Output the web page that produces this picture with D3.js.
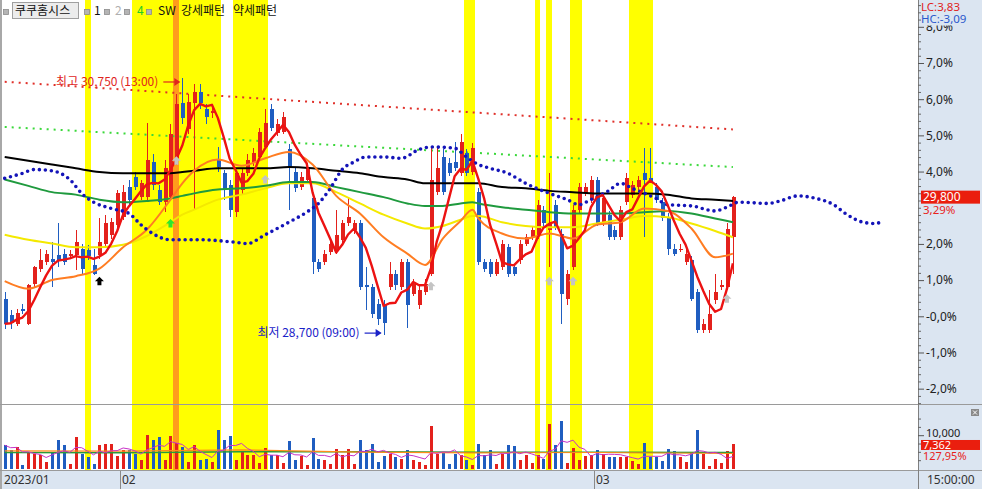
<!DOCTYPE html>
<html><head><meta charset="utf-8"><title>쿠쿠홈시스</title>
<script src="https://cdn.jsdelivr.net/npm/d3@7/dist/d3.min.js"></script>
<style>
html,body{margin:0;padding:0;background:#fff;overflow:hidden}
svg{display:block}
text{font-family:"Noto Sans CJK KR","Noto Sans",sans-serif}
.num{font-family:"Noto Sans","DejaVu Sans",sans-serif}
</style></head><body>
<svg id="chart" width="982" height="489"></svg>
<script>
// ---------------- data ----------------
const stockName = "쿠쿠홈시스";
const basePrice = 28850;            // previous close (0.0%)
const lastPrice = 29800;
const lastPctLabel = "3,29%";
const lastVolume = 7362;
const lastVolPct = "127,95%";
const lcLabel = "LC:3,83", hcLabel = "HC:-3,09";

const opens = [28990,28860,28790,28910,28790,29110,29230,29280,29310,29340,
 29350,29330,29340,29390,29380,29260,29340,29430,29500,29580,
 29640,29880,29960,29800,29800,30080,29860,29760,29800,30100,
 30550,30340,30550,30640,30500,30470,30100,29990,29900,29680,
 29860,29990,30070,30120,30200,30500,30310,30320,30180,30000,
 29880,29940,29790,29280,29280,29360,29380,29460,29590,29540,
 29590,29100,29080,28950,28940,29080,29190,29080,29280,29030,
 28940,29040,29190,29840,30120,30070,30080,29990,30150,30000,
 29840,29280,29280,29190,29240,29400,29240,29300,29430,29480,
 29500,29700,29540,29740,29510,28990,29240,29700,29830,29780,
 29940,29590,29660,29540,29480,29760,29820,29880,29990,29950,
 29880,29760,29630,29390,29380,29280,29300,29040,28740,28740,
 28980,29080,29080,29480];
const highs = [29040,28900,28910,28950,29110,29250,29390,29380,29440,29590,
 29390,29380,29540,29430,29420,29390,29630,29660,29630,29860,
 29900,29940,30000,29940,30390,30140,29900,30100,30380,30620,
 30750,30620,30700,30700,30540,30510,30200,30020,29940,30020,
 30030,30140,30190,30350,30500,30540,30420,30480,30220,30030,
 30000,30070,29820,29310,29380,29460,29700,29620,29790,29620,
 29620,29240,29110,28990,28980,29280,29220,29310,29310,29150,
 29100,29150,30200,30190,30180,30110,30240,30300,30180,30230,
 29870,29310,29310,29310,29460,29430,29270,29460,29510,29570,
 29780,29730,29990,29780,29550,29220,29740,29910,29910,29970,
 29960,29830,29690,29570,29730,29990,29930,29970,30190,30190,
 29910,29790,29670,29430,29430,29390,29330,29070,28830,29060,
 29190,29140,29590,29810];
const lows = [28750,28750,28770,28870,28780,29080,29200,29260,29080,29240,
 29260,29310,29220,29190,29300,29180,29310,29410,29470,29550,
 29620,29740,29860,29780,29780,29860,29740,29680,29780,30060,
 30380,30300,29700,30500,30380,30430,30000,29780,29640,29640,
 29820,29970,30050,30100,30180,30330,30290,30300,29700,29840,
 29860,29910,29190,29200,29260,29340,29350,29430,29570,29510,
 29060,28900,28840,28780,28700,29060,29060,29060,28760,29010,
 28910,29020,29170,29820,29820,29970,30010,29970,29970,29980,
 29260,29200,29160,29170,29220,29160,29170,29270,29410,29460,
 29470,29570,29240,29540,28790,28940,29220,29670,29810,29750,
 29570,29570,29460,29460,29460,29740,29790,29860,29480,29910,
 29750,29610,29340,29330,29360,29260,28970,28720,28720,28720,
 28950,29060,29060,29190];
const closes = [28790,28800,28880,28890,29100,29240,29300,29350,29280,29300,
 29280,29350,29440,29230,29330,29190,29440,29590,29600,29830,
 29840,29780,29880,29910,30100,29900,29760,30030,30300,30540,
 30430,30560,30640,30550,30440,30490,30040,29860,29700,29990,
 29990,30100,30150,30320,30390,30350,30380,30440,30040,29870,
 29960,30040,29280,29230,29350,29430,29500,29590,29640,29590,
 29080,29080,28870,28830,28800,29190,29100,29280,28940,29110,
 29060,29110,29940,30030,29840,29990,30030,30240,29990,30190,
 29280,29230,29190,29280,29430,29190,29190,29430,29480,29540,
 29740,29590,29590,29560,29030,29190,29700,29880,29880,29940,
 29590,29790,29480,29480,29700,29950,29900,29940,29940,29930,
 29780,29630,29390,29350,29390,29350,28990,28740,28790,28870,
 29040,29100,29550,29800];
const volumes = [7000,5500,6500,1000,5000,4500,4000,2000,5000,8700,
 7000,1500,9500,4500,3500,1500,7000,7300,7300,3700,
 5500,5500,4500,2500,10000,8500,9500,2700,9700,7700,
 6500,2000,7000,2500,3000,2000,11500,8500,9700,2700,
 5300,4000,4000,1700,6300,4000,4000,1700,8200,2700,
 3700,1000,9300,3000,2700,1500,6000,4000,6000,1500,
 8500,5500,7500,2000,3700,4500,3500,3000,5700,2500,
 2000,1000,12700,4500,4700,1500,4500,4000,2500,1000,
 7500,4000,5500,1500,4500,7000,6700,2500,4000,1700,
 4000,3000,13300,7000,14300,1700,6300,2700,3700,4000,
 5700,4500,3500,3500,3500,3500,2300,1300,7700,3500,
 3500,2300,6000,5300,3500,2000,4700,11500,4300,800,
 3000,1700,5300,7362];

const maIdx = [0,4,8,12,16,20,24,28,30,32,36,40,44,48,52,56,60,64,68,71,74,77,79,80,84,88,92,96,100,104,108,112,116,120,123];
const orangeMA = [29130,29070,29140,29170,29230,29400,29540,29780,29910,30010,30100,30050,30110,30160,30060,29810,29670,29480,29350,29260,29470,29610,29700,29630,29510,29470,29510,29470,29580,29600,29710,29690,29550,29320,29350];
const yellowMA = [29500,29460,29430,29400,29400,29420,29490,29600,29660,29700,29780,29820,29870,29910,29910,29840,29750,29660,29590,29550,29570,29620,29650,29650,29600,29570,29560,29560,29590,29620,29650,29640,29590,29530,29480];
const greenMA = [29940,29890,29840,29820,29780,29760,29770,29790,29810,29830,29860,29870,29890,29920,29920,29880,29840,29800,29750,29730,29730,29750,29760,29750,29720,29700,29680,29670,29670,29670,29680,29690,29670,29630,29600];
const blackMA = [30120,30090,30060,30030,30000,29990,29990,29990,30000,30010,30030,30030,30030,30040,30030,30010,29990,29960,29940,29910,29910,29910,29910,29910,29880,29870,29850,29840,29830,29830,29830,29820,29790,29780,29770];

// blue dotted span (extends into future slots)
const spanIdx = [0,3,5,8,11,13,15,18,21,23,25,28,33,39,41,44,48,51,53,55,57,59,61,64,67,70,72,76,78,80,82,85,88,92,95,97,99,102,104,106,110,112,116,120,122,124,129,131,134,137,140,142,145,147,148];
const spanVal = [29950,29990,30020,30010,29940,29830,29760,29710,29670,29580,29510,29460,29460,29440,29430,29500,29600,29680,29750,29870,30020,30080,30120,30120,30110,30180,30200,30190,30120,30060,30030,29990,29910,29830,29780,29740,29780,29850,29910,29870,29790,29740,29730,29690,29720,29760,29750,29770,29810,29790,29740,29670,29600,29590,29600];

// dotted trend lines
const trendIdx = [0, 123];
const redTrend = [30720, 30340];
const greenTrend = [30360, 30040];

// volume moving averages (sampled)
const volMaIdx = [0,20,40,60,80,100,123];
const volOrange = [5300,5200,5600,4900,4700,4800,4500];
const volGreen = [4800,4700,5000,5000,4900,4900,4800];

// pattern highlight candles
const strongIdx = [14,22,23,24,25,26,27,28,29,30,31,32,33,34,35,36,39,40,41,42,43,44,78,79,90,92,96,97,106,107,108,109];
const focusIdx = 29;

// signal arrows
const signalIdx = [16,28,29,44,72,92,96,122];
const signalPrice = [29130,29590,30090,29940,29090,29130,29130,28990];
const signalKind = ["black","green","gray","gray","gray","gray","gray","gray"];

// extremes
const hiIdx = 30, hiLabel = "최고 30,750 (13:00)", hiPrice = 30750;
const loIdx = 64, loLabel = "최저 28,700 (09:00)", loPrice = 28700;

// axis labels
const pctTicks = [-2,-1,0,1,2,4,5,6,7,8];
const pctLabels = ["-2,0%","-1,0%","-0,0%","1,0%","2,0%","4,0%","5,0%","6,0%","7,0%","8,0%"];
const monthIdx = [0,20,100];
const monthLabels = ["2023/01","02","03"];
const timeLabel = "15:00:00";
const volTickVals = [10000];
const volTickLabels = ["10,000"];
const legendItems = ["1","2","4","SW","강세패턴","약세패턴"];

// ---------------- drawing ----------------
const RED = "#e3211c", BLUE = "#1f5dc0", PANEL = "#dbe5f1", LINE = "#9a9a9a";
const svg = d3.select("#chart");
const N = closes.length;
const x = d3.scaleLinear().domain([0, N - 1]).range([4.7, 732.9]);
const y = d3.scaleLinear().domain([basePrice, basePrice * 1.07]).range([316.3, 63]);
const pct = d3.scaleLinear().domain([0, 7]).range([316.3, 63]);
const yv = d3.scaleLinear().domain([0, 10000]).range([468.5, 435.2]);

svg.append("rect").attr("x",0).attr("y",0).attr("width",918).attr("height",470).attr("fill","#fff");
svg.append("rect").attr("x",918).attr("y",0).attr("width",64).attr("height",489).attr("fill",PANEL);
svg.append("rect").attr("x",0).attr("y",470).attr("width",918).attr("height",19).attr("fill",PANEL);

const defs = svg.append("defs");
defs.append("clipPath").attr("id","pclip").append("rect").attr("x",3).attr("y",0).attr("width",915).attr("height",404);
defs.append("clipPath").attr("id","vclip").append("rect").attr("x",3).attr("y",405).attr("width",915).attr("height",65);
// local to the 8% tick (tick origin sits at y = pct(8)); hides the part above y = 25
defs.append("clipPath").attr("id","topclip").append("rect").attr("x",0).attr("y",25 - pct(8)).attr("width",64).attr("height",16);

// highlight bands
const gB = svg.append("g").attr("shape-rendering","crispEdges");
const slot = i => [Math.round(x(i - 0.5)), Math.round(x(i + 0.5))];
strongIdx.forEach(i => { const s = slot(i);
  gB.append("rect").attr("x",s[0]).attr("y",0).attr("width",s[1]-s[0]).attr("height",470).attr("fill","#ffff00"); });
{ const s = slot(focusIdx);
  gB.append("rect").attr("x",s[0]).attr("y",0).attr("width",s[1]-s[0]).attr("height",470).attr("fill","#ff9c1c"); }

const gP = svg.append("g").attr("clip-path","url(#pclip)");
const lineOf = (idx, vals, curve) => d3.line().x((d,k)=>x(idx[k])).y(d=>y(d)).curve(curve || d3.curveLinear)(vals);

// trend dotted lines
gP.append("path").attr("d", lineOf(trendIdx, redTrend)).attr("fill","none").attr("stroke","#e0302a").attr("stroke-width",2).attr("stroke-dasharray","2 5");
gP.append("path").attr("d", lineOf(trendIdx, greenTrend)).attr("fill","none").attr("stroke","#3ad83a").attr("stroke-width",2).attr("stroke-dasharray","2 5");

// candles
const gC = gP.append("g").attr("shape-rendering","crispEdges");
d3.range(N).forEach(i => {
  const up = closes[i] >= opens[i];
  const col = up ? RED : BLUE;
  const cx = Math.round(x(i));
  gC.append("rect").attr("x",cx).attr("y",y(highs[i])).attr("width",1).attr("height",Math.max(1,y(lows[i])-y(highs[i]))).attr("fill",col);
  const top = y(Math.max(opens[i],closes[i])), bot = y(Math.min(opens[i],closes[i]));
  gC.append("rect").attr("x",cx-1.5).attr("y",top).attr("width",4).attr("height",Math.max(1.5,bot-top)).attr("fill",col);
});

// moving averages
const curve = d3.curveMonotoneX;
gP.append("path").attr("d", lineOf(maIdx, yellowMA, curve)).attr("fill","none").attr("stroke","#f4e900").attr("stroke-width",2);
gP.append("path").attr("d", lineOf(maIdx, greenMA, curve)).attr("fill","none").attr("stroke","#1f9a3e").attr("stroke-width",2);
gP.append("path").attr("d", lineOf(maIdx, blackMA, curve)).attr("fill","none").attr("stroke","#000").attr("stroke-width",2);
gP.append("path").attr("d", lineOf(maIdx, orangeMA, curve)).attr("fill","none").attr("stroke","#ff7d22").attr("stroke-width",2);
gP.append("path").attr("d", lineOf(spanIdx, spanVal, d3.curveMonotoneX)).attr("fill","none").attr("stroke","#1414b8").attr("stroke-width",3.6).attr("stroke-linecap","round").attr("stroke-dasharray","0 6");
const ma5 = closes.map((c,i) => d3.mean(closes.slice(Math.max(0,i-4), i+1)));
gP.append("path").attr("d", d3.line().x((d,i)=>x(i)).y(d=>y(d))(ma5)).attr("fill","none").attr("stroke","#ec1212").attr("stroke-width",2.4).attr("stroke-linejoin","round");

// signals
const sigColor = {black:"#000", green:"#2ee62e", gray:"#c4c4c4"};
signalIdx.forEach((i,k) => {
  gP.append("path").attr("d","M0,-4.5L4.5,0L2,0L2,4L-2,4L-2,0L-4.5,0Z")
    .attr("transform",`translate(${x(i)},${y(signalPrice[k])})`).attr("fill",sigColor[signalKind[k]]);
});

// extreme annotations
function annot(idx, price, label, color, dy) {
  const ay = y(price) + dy, ax = x(idx) - 2;
  gP.append("text").attr("x", ax - 22).attr("y", ay).attr("dy","0.35em").attr("text-anchor","end")
    .attr("font-size",12).attr("fill",color).text(label);
  gP.append("line").attr("x1",ax-17).attr("x2",ax-1).attr("y1",ay).attr("y2",ay).attr("stroke",color).attr("stroke-width",1.2);
  gP.append("path").attr("d",`M${ax},${ay}L${ax-6},${ay-4}L${ax-6},${ay+4}Z`).attr("fill",color);
}
annot(hiIdx, hiPrice, hiLabel, "#e0261e", 4);
annot(loIdx, loPrice, loLabel, "#1a22c8", -2);

// volume
const gV = svg.append("g").attr("clip-path","url(#vclip)");
const gVb = gV.append("g").attr("shape-rendering","crispEdges");
volumes.forEach((v,i) => {
  const col = closes[i] >= opens[i] ? RED : BLUE;
  gVb.append("rect").attr("x",Math.round(x(i))-1).attr("y",yv(v)).attr("width",3).attr("height",yv(0)-yv(v)).attr("fill",col);
});
const vline = (idx, vals) => d3.line().x((d,k)=>x(idx[k])).y(d=>yv(d))(vals);
gV.append("path").attr("d", vline(volMaIdx, volGreen)).attr("fill","none").attr("stroke","#2a9a3a").attr("stroke-width",1.5);
gV.append("path").attr("d", vline(volMaIdx, volOrange)).attr("fill","none").attr("stroke","#ff8c1a").attr("stroke-width",1.2);
const vma5 = volumes.map((v,i) => d3.mean(volumes.slice(Math.max(0,i-4), i+1)));
gV.append("path").attr("d", d3.line().x((d,i)=>x(i)).y(d=>yv(d))(vma5)).attr("fill","none").attr("stroke","#c832c8").attr("stroke-width",1);

// frame lines
const gF = svg.append("g").attr("shape-rendering","crispEdges");
gF.append("rect").attr("x",0).attr("y",0).attr("width",2).attr("height",489).attr("fill","#a8a8a8");
gF.append("rect").attr("x",0).attr("y",404).attr("width",982).attr("height",1).attr("fill",LINE);
gF.append("rect").attr("x",0).attr("y",470).attr("width",982).attr("height",1).attr("fill",LINE);
gF.append("rect").attr("x",918).attr("y",0).attr("width",1).attr("height",489).attr("fill","#7f7f7f");

// price axis
const gA = svg.append("g").attr("transform","translate(918,0)");
const minor = d3.range(-24, 87, 2).map(d => d / 10).filter(d => Math.abs(d - Math.round(d)) > 0.01 || d === 3);
gA.append("g").call(d3.axisRight(pct).tickValues(minor).tickSize(3).tickFormat(""))
  .call(g => { g.select(".domain").remove(); g.selectAll("line").attr("stroke","#666"); });
const ax1 = gA.append("g").call(d3.axisRight(pct).tickValues(pctTicks).tickSize(6).tickPadding(2).tickFormat((d,k)=>pctLabels[k]));
ax1.select(".domain").remove();
ax1.selectAll("line").attr("stroke","#555");
ax1.selectAll("text").attr("class","num").attr("font-size",12).attr("fill","#222");
// top label half hidden under the LC/HC readout, as in the source
ax1.selectAll(".tick").filter(d => d === 8).select("text").attr("clip-path","url(#topclip)");

// LC / HC
svg.append("text").attr("class","num").attr("x",921).attr("y",11).attr("font-size",11.5).attr("fill","#e0221c").text(lcLabel);
svg.append("text").attr("class","num").attr("x",921).attr("y",23).attr("font-size",11.5).attr("fill","#2a58cc").text(hcLabel);

// last price tag
const ly = y(lastPrice);
svg.append("rect").attr("x",921).attr("y",ly-6.5).attr("width",59).attr("height",13).attr("fill","#ea1e0e");
svg.append("text").attr("class","num").attr("x",923).attr("y",ly).attr("dy","0.36em").attr("font-size",12).attr("fill","#fff").text(d3.format(",")(lastPrice));
svg.append("text").attr("class","num").attr("x",923).attr("y",ly+13).attr("dy","0.36em").attr("font-size",11.5).attr("fill","#e8221c").text(lastPctLabel);

// volume axis
const gVA = svg.append("g").attr("transform","translate(918,0)");
gVA.append("g").call(d3.axisRight(yv).tickValues([2500,5000,7500,12500,15000]).tickSize(3).tickFormat(""))
  .call(g => { g.select(".domain").remove(); g.selectAll("line").attr("stroke","#666"); });
const ax2 = gVA.append("g").call(d3.axisRight(yv).tickValues(volTickVals).tickSize(6).tickPadding(2).tickFormat((d,k)=>volTickLabels[k]));
ax2.select(".domain").remove();
ax2.selectAll("line").attr("stroke","#555");
ax2.selectAll("text").attr("class","num").attr("font-size",11).attr("fill","#222").attr("dy","0.1em");
const vy = yv(lastVolume);
svg.append("rect").attr("x",921).attr("y",vy-4).attr("width",59).attr("height",10).attr("fill","#ea1e0e");
svg.append("text").attr("class","num").attr("x",923).attr("y",vy+1).attr("dy","0.36em").attr("font-size",11).attr("fill","#fff").text(d3.format(",")(lastVolume));
svg.append("text").attr("class","num").attr("x",923).attr("y",vy+12.5).attr("dy","0.36em").attr("font-size",11).attr("fill","#e8221c").text(lastVolPct);
// close icon
svg.append("rect").attr("x",971).attr("y",409).attr("width",8).attr("height",7).attr("fill","#8a8a8a");
svg.append("path").attr("d","M973,410.5L977,414.5M977,410.5L973,414.5").attr("stroke","#fff").attr("stroke-width",1);

// time axis
monthIdx.forEach((i,k) => {
  const sx = i === 0 ? 2 : Math.round(x(i - 0.5));
  if (i > 0) svg.append("rect").attr("x",sx).attr("y",471).attr("width",1).attr("height",18).attr("fill","#8a8a8a");
  svg.append("text").attr("class","num").attr("x",sx+2).attr("y",480).attr("dy","0.35em").attr("font-size",12).attr("fill","#333").text(monthLabels[k]);
});
svg.append("text").attr("class","num").attr("x",927).attr("y",480).attr("dy","0.35em").attr("font-size",12).attr("fill","#333").text(timeLabel);

// legend
const gL = svg.append("g");
const sq = cx => gL.append("rect").attr("x",cx-2.5).attr("y",9.5).attr("width",5).attr("height",5).attr("fill","#b4b4b4").attr("stroke","#8c8c8c").attr("stroke-width",0.8);
sq(6);
gL.append("rect").attr("x",12.5).attr("y",2.5).attr("width",66).attr("height",16).attr("fill","#ececec").attr("stroke","#a0a0a0");
gL.append("text").attr("x",15).attr("y",11).attr("dy","0.36em").attr("font-size",12).attr("fill","#111").text(stockName);
const legX = [94, 115, 137, 158, 181, 233];
const legCol = ["#111","#b0b0b0","#22cc22","#111","#111","#111"];
[87,107,127,149].forEach(sq);
legendItems.forEach((t,k) => gL.append("text").attr("x",legX[k]).attr("y",11).attr("dy","0.36em").attr("font-size",12).attr("fill",legCol[k]).text(t));
</script>
</body></html>
